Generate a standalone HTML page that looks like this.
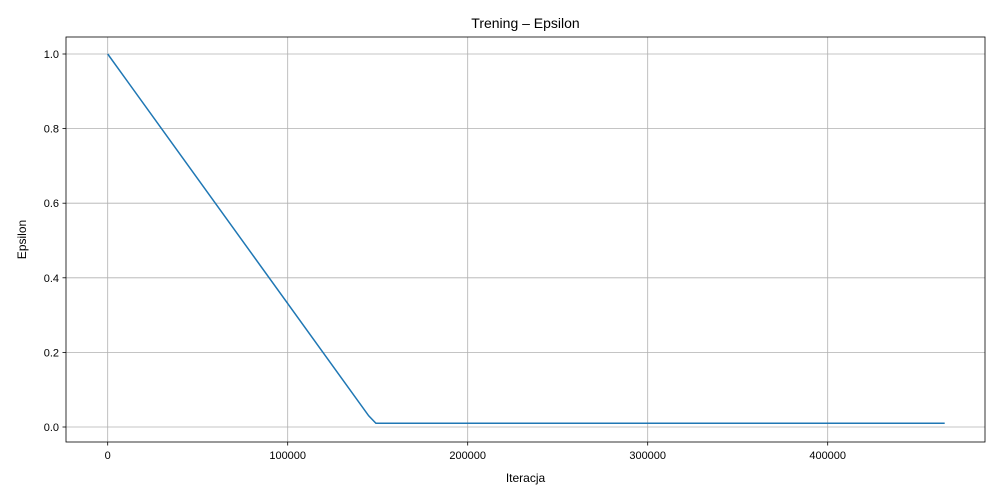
<!DOCTYPE html>
<html><head><meta charset="utf-8"><style>body{margin:0;background:#fff}svg{display:block;font-family:"Liberation Sans","DejaVu Sans",sans-serif}</style></head>
<body>
<svg id="c" width="1000" height="500"></svg>
<script>
const xs=[0,145000,149000,465000];
const ys=[1.0,0.03,0.01,0.01];
const xTicks=[0,100000,200000,300000,400000];
const yTicks=[0.0,0.2,0.4,0.6,0.8,1.0];
const L=66,R=985,T=37,B=442;
const X=v=>107.7+v*0.0018;
const Y=v=>427-v*373;
const s=document.getElementById('c');
const NS='http://www.w3.org/2000/svg';
function add(t,a,txt,name){const e=document.createElementNS(NS,t);for(const k in a)e.setAttribute(k,a[k]);if(txt!=null)e.textContent=txt;


s.appendChild(e);return e;}
xTicks.forEach(v=>{const x=X(v);add('line',{x1:x,x2:x,y1:T,y2:B,stroke:'#b0b0b0','stroke-width':0.8},null,'x-grid-line');add('line',{x1:x,x2:x,y1:B,y2:B+3.5,stroke:'#000','stroke-width':0.8},null,'x-tick');add('text',{x:x,y:B+17,'font-size':11,'text-anchor':'middle'},String(v),'x-tick-label');});
yTicks.forEach(v=>{const y=Y(v);add('line',{x1:L,x2:R,y1:y,y2:y,stroke:'#b0b0b0','stroke-width':0.8},null,'y-grid-line');add('line',{x1:L-3.5,x2:L,y1:y,y2:y,stroke:'#000','stroke-width':0.8},null,'y-tick');add('text',{x:L-7,y:y+4,'font-size':11,'text-anchor':'end'},v.toFixed(1),'y-tick-label');});
add('polyline',{points:xs.map((v,i)=>X(v)+','+Y(ys[i])).join(' '),fill:'none',stroke:'#1f77b4','stroke-width':1.5},null,'epsilon-line');
add('rect',{x:L,y:T,width:R-L,height:B-T,fill:'none',stroke:'#000','stroke-width':0.8},null,'plot-frame');
add('text',{x:(L+R)/2,y:T-9,'font-size':14,'text-anchor':'middle'},'Trening – Epsilon','chart-title');
add('text',{x:(L+R)/2,y:482,'font-size':12,'text-anchor':'middle'},'Iteracja','x-axis-title');
add('text',{x:26,y:(T+B)/2,'font-size':12,'text-anchor':'middle',transform:'rotate(-90 26 '+((T+B)/2)+')'},'Epsilon','y-axis-title');
</script>
</body></html>
